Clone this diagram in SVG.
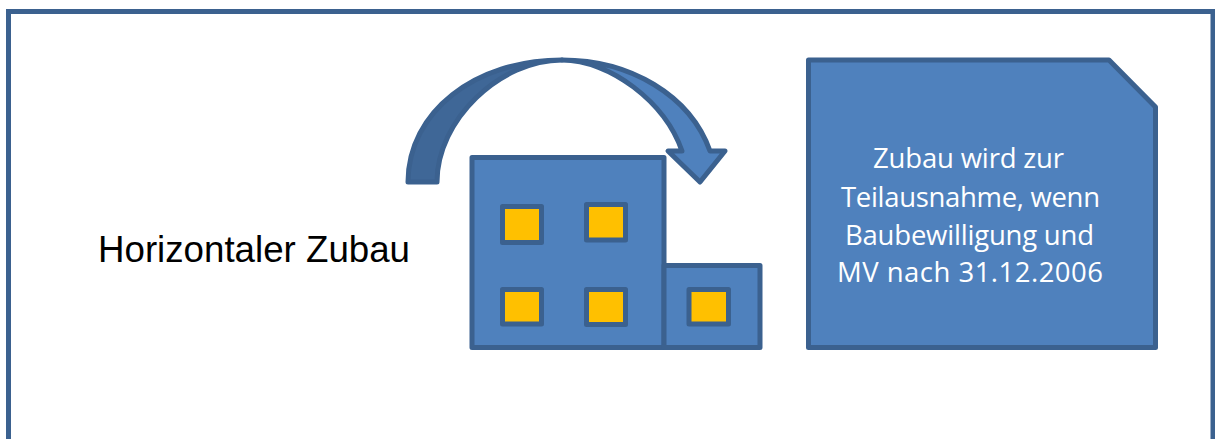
<svg xmlns="http://www.w3.org/2000/svg" width="1215" height="439" viewBox="0 0 1215 439">
<style>
.s{stroke:#3b618f;stroke-linejoin:round}
.b{fill:#4f81bd;stroke-width:5}
.w{fill:#ffc000;stroke-width:5}
.lbl{font-family:"Liberation Sans",Arial,sans-serif;font-size:36.7px;fill:#000}
.note{font-family:"Open Sans","Noto Sans",sans-serif;font-size:27.5px;fill:#fff;text-anchor:middle}
</style>
<rect width="1215" height="439" fill="#fff"/>
<path id="frame" d="M8.500 439V11.500H1213V439" fill="none" stroke="#3b618f" stroke-width="5"/>
<g id="arrow">
<path class="s" fill="#3f6797" stroke-width="5" d="M408 182C408 112 475 60 562 60C500 60 437 120 437 182Z"/>
<path class="s" fill="#4f81bd" stroke-width="5" d="M562 60C630 60 690 95 710 151H725L700 182L668 151H682C665 102 610 60 562 60Z"/>
</g>
<g id="building">
<rect class="s b" x="472" y="157.500" width="192" height="190"/>
<rect class="s w" x="502.500" y="206.500" width="39" height="36"/>
<rect class="s w" x="586.500" y="204.500" width="39" height="35.500"/>
<rect class="s w" x="502.500" y="289.500" width="39" height="34.500"/>
<rect class="s w" x="586.500" y="289.500" width="39" height="35"/>
</g>
<g id="extension">
<rect class="s b" x="664" y="265.500" width="96" height="82"/>
<rect class="s w" x="689" y="289.500" width="39.500" height="34.500"/>
</g>
<g id="note">
<path class="s b" d="M808.500 60H1109L1155.500 107V347.500H808.500Z"/>
<text class="note" x="968.500" y="168" textLength="191">Zubau wird zur</text>
<text class="note" x="970.500" y="207" textLength="259">Teilausnahme, wenn</text>
<text class="note" x="969.500" y="245" textLength="249">Baubewilligung und</text>
<text class="note" x="970" y="282" textLength="266">MV nach 31.12.2006</text>
</g>
<text id="label" class="lbl" x="98" y="262">Horizontaler Zubau</text>
</svg>
